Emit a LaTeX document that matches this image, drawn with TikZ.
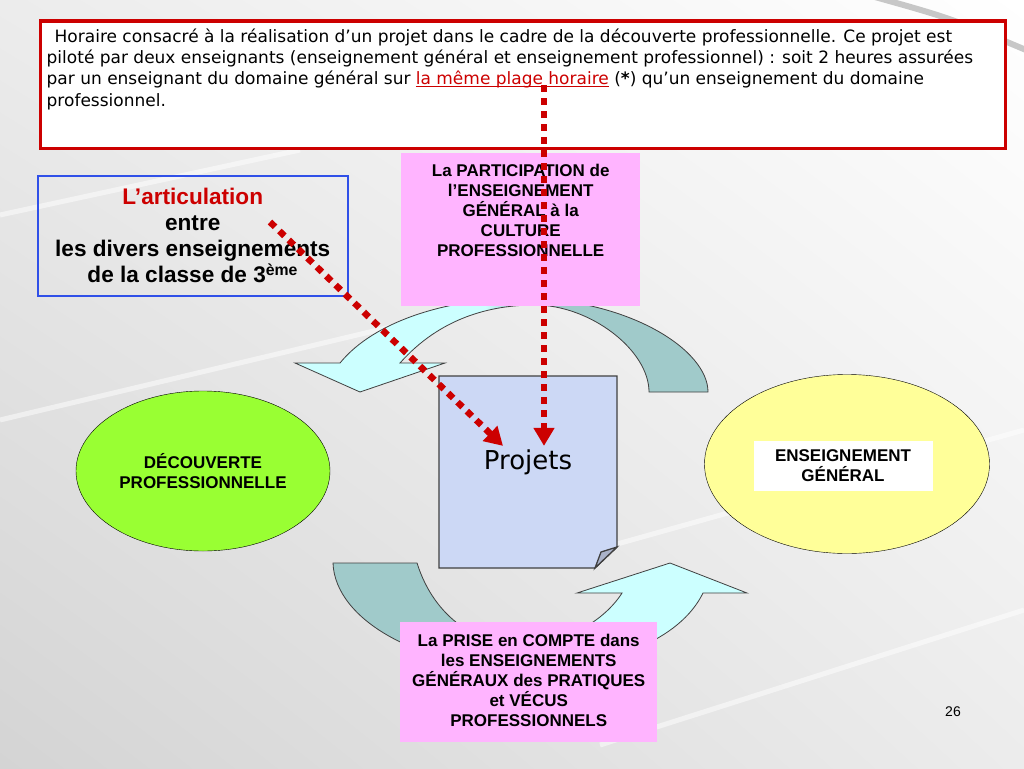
\documentclass[tikz,border=0pt]{standalone}
\usepackage{fontspec}
\setmainfont{Liberation Sans}
\newfontfamily\slidefont{DejaVu Sans}
\usetikzlibrary{arrows.meta,shapes.geometric,positioning,shadings}

\newcommand{\baseul}[1]{\leavevmode\setbox0\hbox{#1}\rlap{\rule[-2.3pt]{\wd0}{0.9pt}}\box0}

\definecolor{redline}{HTML}{CC0000}
\definecolor{pinkfill}{HTML}{FFB4FF}
\definecolor{notefill}{HTML}{CCD8F5}
\definecolor{foldfill}{HTML}{AAB2C8}
\definecolor{greenfill}{HTML}{99FF33}
\definecolor{yellowfill}{HTML}{FFFF99}
\definecolor{arrcyan}{HTML}{CCFFFF}
\definecolor{arrteal}{HTML}{A0CACA}
\definecolor{bluebord}{HTML}{3050E8}
\definecolor{bgtop}{HTML}{ECECEC}
\definecolor{bgbottom}{HTML}{D4D4D4}

\pgfdeclarehorizontalshading{cyanteal}{100bp}{color(0bp)=(arrcyan); color(48bp)=(arrcyan); color(52bp)=(arrteal); color(100bp)=(arrteal)}
\pgfdeclarehorizontalshading{tealcyan}{100bp}{color(0bp)=(arrteal); color(48bp)=(arrteal); color(52bp)=(arrcyan); color(100bp)=(arrcyan)}

\tikzset{
  streak/.style={white, line width=5pt, opacity=0.5},
  cyclearrow/.style={draw=black!75, line width=0.8pt},
  pinkbox/.style={fill=pinkfill, anchor=north west, inner sep=0pt},
  notestyle/.style={draw=black!75, line width=1.3pt, fill=notefill},
  toptext/.style={font=\slidefont\fontsize{17}{21.3}\selectfont, align=left, inner sep=0pt},
  boldtext/.style={font=\bfseries\fontsize{17}{20}\selectfont, align=center},
  bigbold/.style={font=\bfseries\fontsize{22.6}{26}\selectfont, align=center},
  projfont/.style={font=\slidefont\fontsize{26}{30}\selectfont},
  dotarrow/.style={draw=redline, line width=6.5pt, dash pattern=on 7pt off 6pt,
    -{Triangle[length=18pt,width=20pt]}}
}

\begin{document}
\begin{tikzpicture}[x=1pt,y=-1pt]
  \useasboundingbox (0,0) rectangle (1024,768);
  \shade[upper left=bgtop, upper right=white, lower left=bgbottom, lower right=bgtop] (0,0) rectangle (1024,768);
  \draw[streak] (0,215) -- (300,150);
  \draw[streak] (0,420) -- (420,320);
  \draw[streak] (560,560) -- (1024,430);
  \draw[streak] (600,745) -- (1024,610);
  \draw[black!22, line width=6pt] (875,-3) .. controls (950,18) .. (1026,50);

  % cycle arrows
  \shade[cyclearrow, shading=cyanteal] (708,392) -- (649,392) .. controls (649,350) and (590,305) .. (535,305)
    .. controls (490,305) and (440,318) .. (400,363) -- (445,363) -- (360,392) -- (295,363) -- (340,363)
    .. controls (375,320) and (450,298) .. (525,298) .. controls (630,300) and (708,350) .. (708,392) -- cycle;
  \shade[cyclearrow, shading=tealcyan] (333,563) -- (417,563) .. controls (435,620) and (480,645) .. (520,645)
    .. controls (565,645) and (605,620) .. (622,593) -- (577,593) -- (670,563) -- (747,593) -- (703,593)
    .. controls (680,640) and (610,668) .. (525,668) .. controls (420,668) and (335,620) .. (333,563) -- cycle;

  \node[ellipse, draw, fill=greenfill, minimum width=254pt, minimum height=160pt, boldtext] (decouverte) at (203,471) {DÉCOUVERTE\\PROFESSIONNELLE};
  \node[ellipse, draw, fill=yellowfill, minimum width=285pt, minimum height=179pt] (general) at (847,464) {};
  \node[fill=white, minimum width=179pt, minimum height=50pt, boldtext] (generalbox) at ([xshift=-4pt,yshift=-2pt]general.center) {ENSEIGNEMENT\\GÉNÉRAL};

  \draw[notestyle] (439,376) -- (617,376) -- (617,547) -- (595,568) -- (439,568) -- cycle;
  \draw[notestyle, fill=foldfill] (595,568) -- (601,552) -- (617,547) -- cycle;
  \node[projfont] (projets) at (528,462) {Projets};

  \node[pinkbox, minimum width=239pt, minimum height=153pt] (participation) at (401,153) {};
  \node[boldtext, below=8pt of participation.north] (participationtext) {La PARTICIPATION de\\l’ENSEIGNEMENT\\GÉNÉRAL à la\\CULTURE\\PROFESSIONNELLE};
  \node[pinkbox, minimum width=257pt, minimum height=120pt] (prise) at (400,622) {};
  \node[boldtext] (prisetext) at ([yshift=2pt]prise.center) {La PRISE en COMPTE dans\\les ENSEIGNEMENTS\\GÉNÉRAUX des PRATIQUES\\et VÉCUS\\PROFESSIONNELS};

  \node[draw=redline, line width=3.5pt, fill=white, minimum width=965pt, minimum height=127pt, anchor=north west] (horaire) at (38.5,19.5) {};
  \node[toptext, anchor=north west] (horairetext) at ([xshift=8pt,yshift=-9pt]horaire.north west) {\hspace{8pt}Horaire consacré à la réalisation d’un projet dans le cadre de la découverte professionnelle. Ce projet est\\
    piloté par deux enseignants (enseignement général et enseignement professionnel) : soit 2 heures assurées\\
    par un enseignant du domaine général sur \textcolor{redline}{\baseul{la même plage horaire}} (\textbf{*}) qu’un enseignement du domaine\\
    professionnel.};

  \node[draw=bluebord, line width=1.5pt, minimum width=310pt, minimum height=120pt, anchor=north west, bigbold] (articulation) at (37,175) {\textcolor{redline}{L’articulation}\\entre\\les divers enseignements\\de la classe de 3\textsuperscript{ème}};

  \node[font=\fontsize{14}{16}\selectfont] (pagenum) at (953,712) {26};

  \coordinate (diagstart) at (270,222);
  \coordinate (vertstart) at (544,85);
  \draw[dotarrow] (diagstart) -- ([xshift=-25pt]projets.north);
  \draw[dotarrow] (vertstart) -- ([xshift=16pt]projets.north);
\end{tikzpicture}
\end{document}
